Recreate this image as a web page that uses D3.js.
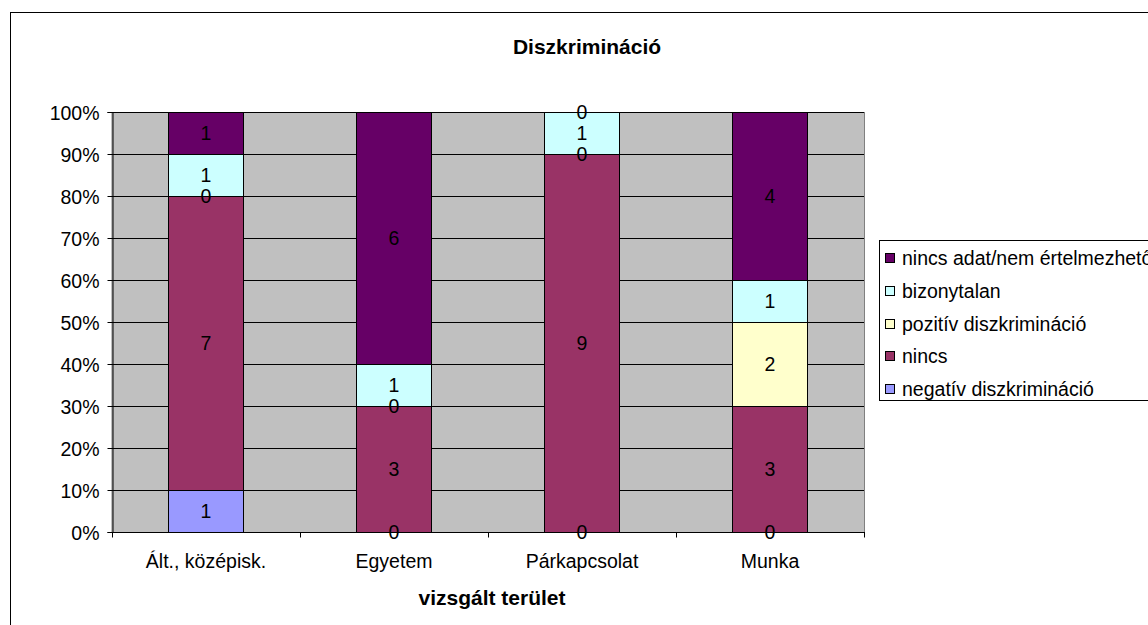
<!DOCTYPE html>
<html>
<head>
<meta charset="utf-8">
<script src="https://cdn.jsdelivr.net/npm/d3@7"></script>
<style>
html,body{margin:0;padding:0;background:#fff;overflow:hidden;}
svg{display:block;font-family:"Liberation Sans",Arial,sans-serif;}
</style>
</head>
<body>
<svg id="chart" width="1148" height="625"></svg>
<script>
const categories = ["Ált., középisk.", "Egyetem", "Párkapcsolat", "Munka"];
const seriesNames = ["negatív diszkrimináció", "nincs", "pozitív diszkrimináció", "bizonytalan", "nincs adat/nem értelmezhető"];
const negativ = [1, 0, 0, 0];
const nincs = [7, 3, 9, 3];
const pozitiv = [0, 0, 0, 2];
const bizonytalan = [1, 1, 1, 1];
const nincsAdat = [1, 6, 0, 4];
const seriesColors = ["#9999FF", "#993366", "#FFFFCC", "#CCFFFF", "#660066"];
const yTicks = [0, 0.1, 0.2, 0.3, 0.4, 0.5, 0.6, 0.7, 0.8, 0.9, 1];
const title = "Diszkrimináció";
const xTitle = "vizsgált terület";

const FS = 19.5;
const seriesValues = [negativ, nincs, pozitiv, bizonytalan, nincsAdat];
const rows = categories.map((c, i) => {
  const r = {cat: c};
  seriesNames.forEach((s, j) => r[s] = seriesValues[j][i]);
  return r;
});
const stacked = d3.stack().keys(seriesNames).offset(d3.stackOffsetExpand)(rows);

const svg = d3.select("#chart");
const plot = {l: 112, r: 864, t: 112, b: 532};

// outer chart border
svg.append("rect").attr("x", 10.5).attr("y", 12.5).attr("width", 1200).attr("height", 700)
  .attr("fill", "#fff").attr("stroke", "#000").attr("stroke-width", 1);

const x = d3.scaleBand().domain(categories).range([plot.l, plot.r]).paddingInner(0.6).paddingOuter(0.3);
const xCat = d3.scaleBand().domain(categories).range([plot.l, plot.r]).padding(0);
const y = d3.scaleLinear().domain([0, 1]).range([plot.b, plot.t]);

// plot area
svg.append("rect").attr("x", plot.l).attr("y", plot.t + 0.5).attr("width", plot.r - plot.l + 0.5).attr("height", plot.b - plot.t)
  .attr("fill", "#C0C0C0").attr("stroke", "#808080").attr("stroke-width", 1);

// gridlines
svg.append("g").selectAll("line").data(yTicks).join("line")
  .attr("x1", plot.l).attr("x2", plot.r)
  .attr("y1", d => Math.round(y(d)) + 0.5).attr("y2", d => Math.round(y(d)) + 0.5)
  .attr("stroke", "#000").attr("stroke-width", 1);

// bars
const layer = svg.append("g").selectAll("g").data(stacked).join("g")
  .attr("fill", (d, i) => seriesColors[i]);
layer.selectAll("rect").data(d => d).join("rect")
  .attr("x", d => Math.round(x(d.data.cat)) + 0.5)
  .attr("width", Math.round(x.bandwidth()))
  .attr("y", d => Math.round(y(d[1])) + 0.5)
  .attr("height", d => Math.round(y(d[0])) - Math.round(y(d[1])))
  .attr("stroke", "#000").attr("stroke-width", 1);

// data labels
const lbl = svg.append("g").attr("font-size", FS).attr("fill", "#000").attr("text-anchor", "middle");
stacked.forEach((s, j) => {
  s.forEach((d, i) => {
    lbl.append("text")
      .attr("x", x(d.data.cat) + x.bandwidth() / 2)
      .attr("y", y((d[0] + d[1]) / 2))
      .attr("dy", "0.36em")
      .text(seriesValues[j][i]);
  });
});

// y axis
const yAxis = d3.axisLeft(y).tickValues(yTicks).tickFormat(d3.format(".0%")).tickSize(5).tickPadding(8);
const ya = svg.append("g").attr("transform", `translate(${plot.l + 0.5},0)`).call(yAxis);
ya.select(".domain").attr("stroke", "#000");
ya.selectAll(".tick line").attr("stroke", "#000");
ya.selectAll(".tick").attr("transform", d => `translate(0,${Math.round(y(d)) + 0.5})`);
ya.selectAll("text").attr("font-size", FS).attr("font-family", "Liberation Sans, Arial, sans-serif").attr("fill", "#000").attr("dy", "0.36em");

// x axis
const xa = svg.append("g").attr("transform", `translate(0,${plot.b + 0.5})`);
xa.append("line").attr("x1", plot.l).attr("x2", plot.r + 1).attr("y1", 0).attr("y2", 0).attr("stroke", "#000");
const bounds = categories.map(c => xCat(c)).concat([plot.r]);
xa.selectAll("line.t").data(bounds).join("line").attr("class", "t")
  .attr("x1", d => Math.round(d) + 0.5).attr("x2", d => Math.round(d) + 0.5)
  .attr("y1", 0).attr("y2", 5).attr("stroke", "#000");
xa.selectAll("text").data(categories).join("text")
  .attr("x", d => xCat(d) + xCat.bandwidth() / 2)
  .attr("y", 35).attr("text-anchor", "middle").attr("font-size", FS).text(d => d);

// titles
svg.append("text").attr("x", 587).attr("y", 54).attr("text-anchor", "middle")
  .attr("font-size", 21).attr("font-weight", "bold").text(title);
svg.append("text").attr("x", 492).attr("y", 605).attr("text-anchor", "middle")
  .attr("font-size", 21).attr("font-weight", "bold").text(xTitle);

// legend
const leg = svg.append("g");
leg.append("rect").attr("x", 879.5).attr("y", 240.5).attr("width", 400).attr("height", 160)
  .attr("fill", "#fff").attr("stroke", "#000");
const legOrder = seriesNames.map((s, i) => ({name: s, color: seriesColors[i]})).reverse();
const ly = d3.scalePoint().domain(legOrder.map(d => d.name)).range([258, 389]);
const items = leg.selectAll("g.item").data(legOrder).join("g").attr("class", "item");
items.append("rect").attr("x", 885.5).attr("y", d => Math.round(ly(d.name)) - 4.5)
  .attr("width", 9).attr("height", 9).attr("fill", d => d.color).attr("stroke", "#000");
items.append("text").attr("x", 902).attr("y", d => ly(d.name)).attr("dy", "0.36em")
  .attr("font-size", FS).text(d => d.name);
</script>
</body>
</html>
